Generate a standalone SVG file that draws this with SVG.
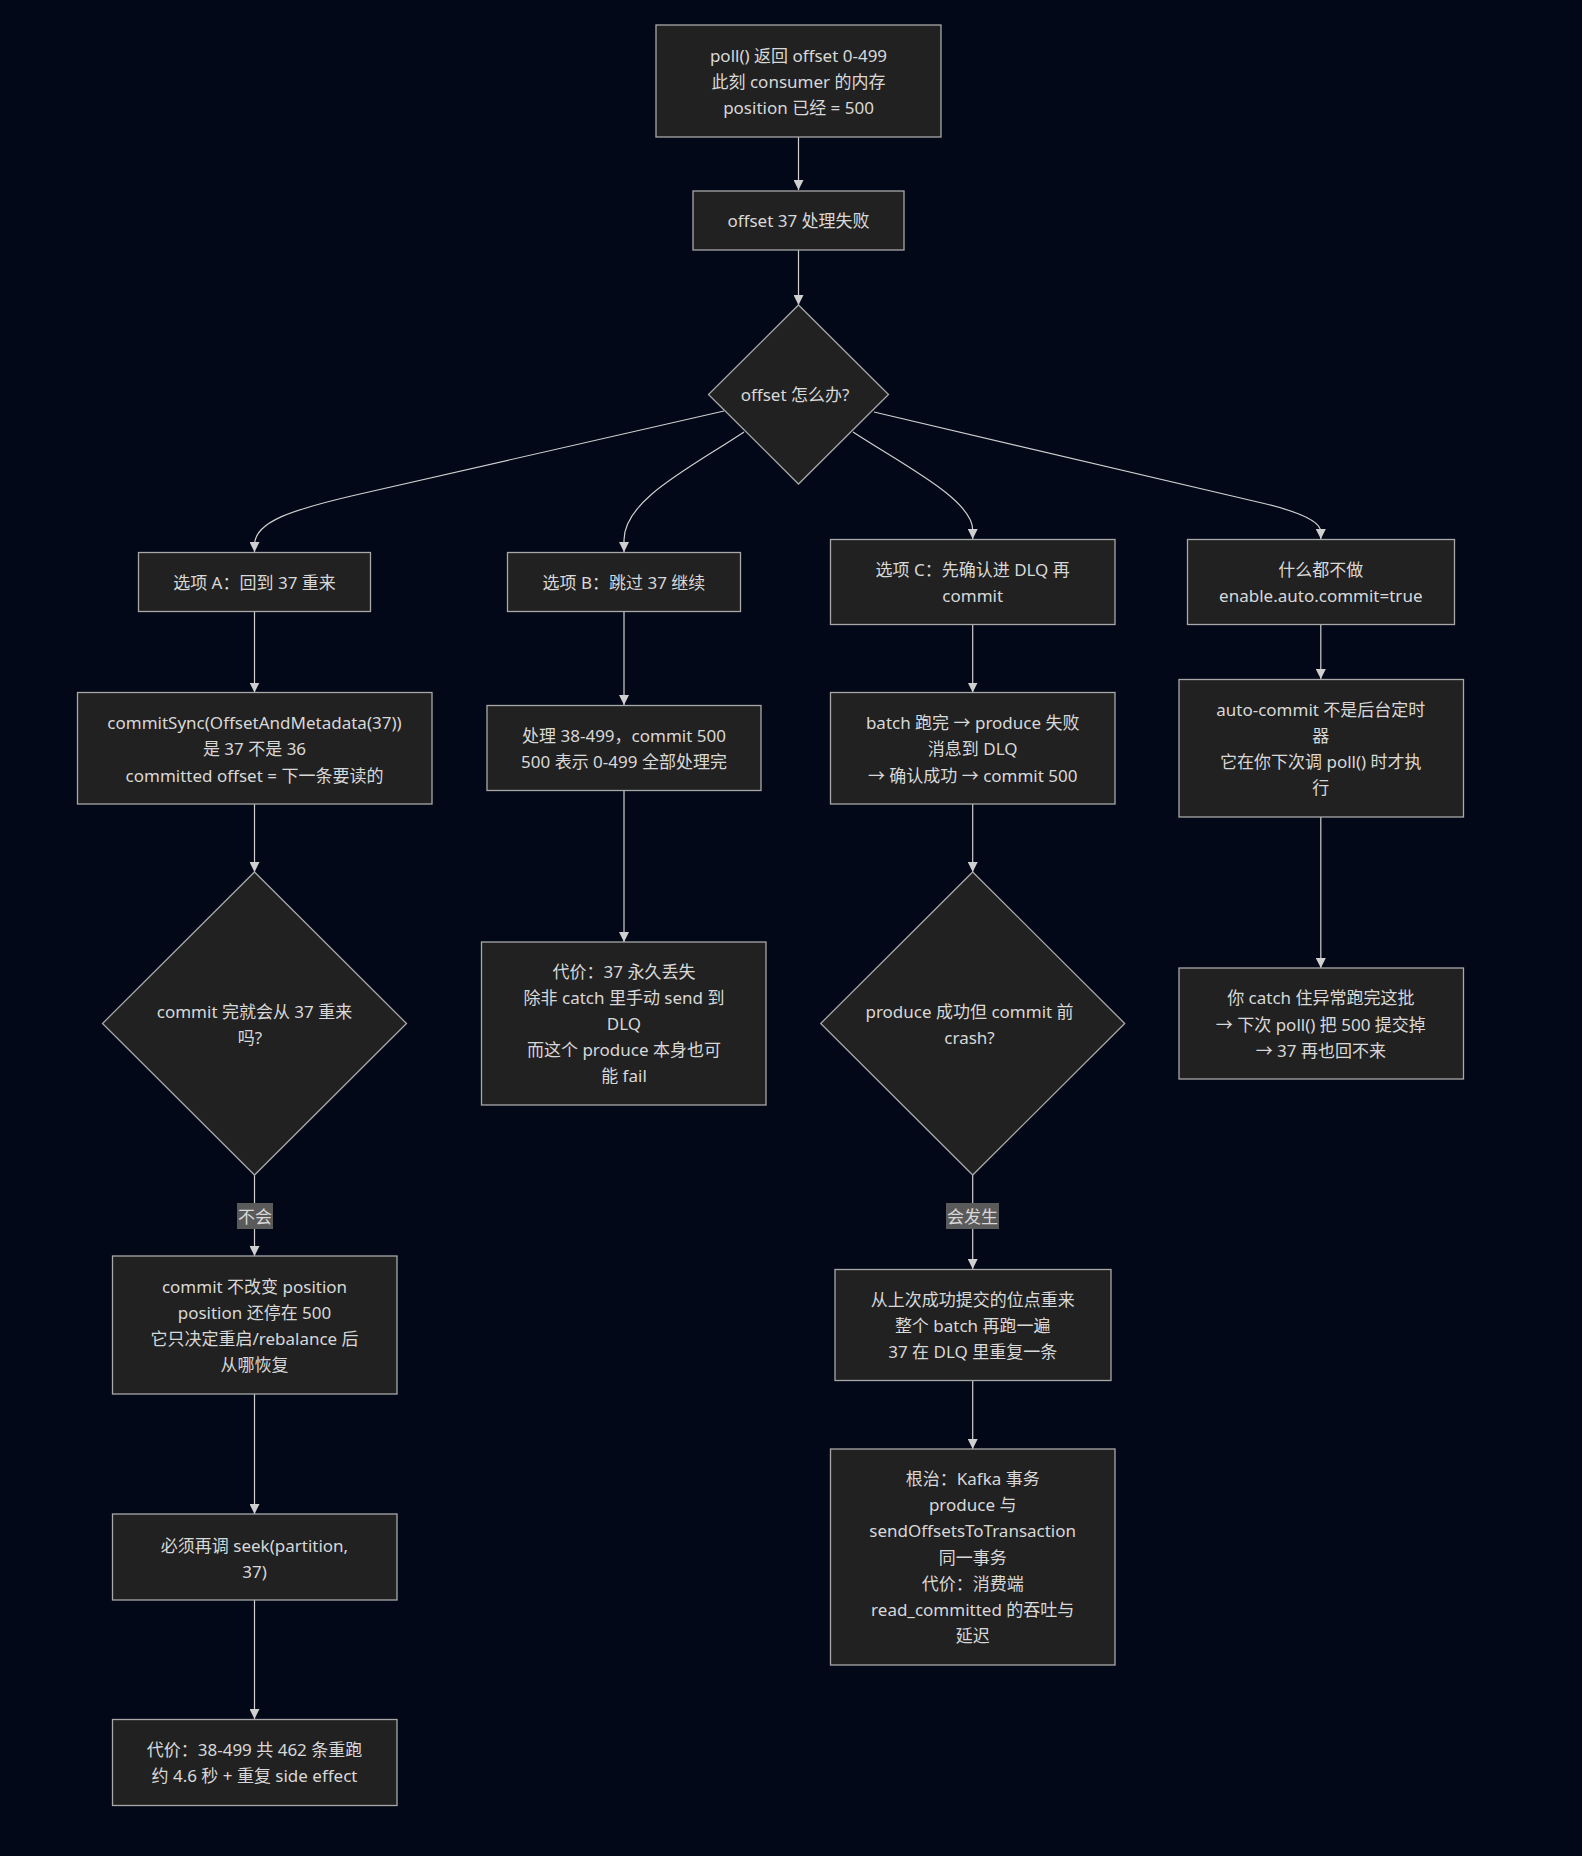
<svg xmlns="http://www.w3.org/2000/svg" width="1582" height="1856" viewBox="0 0 1582 1856">
<style>
.bg{fill:#020817}
.n{fill:#212121;stroke:#a8a8a8;stroke-width:1.3}
.t{font-family:"Noto Sans","Noto Sans CJK SC",sans-serif;font-size:17px;fill:#d8d8d8;text-anchor:middle;dominant-baseline:central}
.e{fill:none;stroke:#cfcfcf;stroke-width:1.2}
.lb{fill:#5a5a5a}
</style>
<defs>
<marker id="ah" viewBox="0 0 10 10" refX="10" refY="5" markerWidth="10" markerHeight="10" markerUnits="userSpaceOnUse" orient="auto">
<path d="M0,0 L10,5 L0,10 z" fill="#cfcfcf"/>
</marker>
</defs>
<rect class="bg" x="0" y="0" width="1582" height="1856"/>

<g id="connectors">
<path class="e" marker-end="url(#ah)" d="M798.5,137 L798.5,190"/>
<path class="e" marker-end="url(#ah)" d="M798.5,250 L798.5,305"/>
<path class="e" marker-end="url(#ah)" d="M724,411 L360,494 C290,510 254.5,522 254.5,545 L254.5,552"/>
<path class="e" marker-end="url(#ah)" d="M744,432 C690,468 624,500 624,540 L624,552"/>
<path class="e" marker-end="url(#ah)" d="M853,432 C905,466 972.7,500 972.7,530 L972.7,539"/>
<path class="e" marker-end="url(#ah)" d="M874,412 L1262,503 C1300,512 1320.8,522 1320.8,532 L1320.8,539"/>
<path class="e" marker-end="url(#ah)" d="M254.5,611 L254.5,692.5"/>
<path class="e" marker-end="url(#ah)" d="M254.5,804 L254.5,872"/>
<path class="e" marker-end="url(#ah)" d="M254.5,1175 L254.5,1256"/>
<path class="e" marker-end="url(#ah)" d="M254.5,1394 L254.5,1514"/>
<path class="e" marker-end="url(#ah)" d="M254.5,1600 L254.5,1719"/>
<path class="e" marker-end="url(#ah)" d="M624,611 L624,705"/>
<path class="e" marker-end="url(#ah)" d="M624,791 L624,942"/>
<path class="e" marker-end="url(#ah)" d="M972.7,625 L972.7,692.5"/>
<path class="e" marker-end="url(#ah)" d="M972.7,804 L972.7,872"/>
<path class="e" marker-end="url(#ah)" d="M972.7,1175 L972.7,1269"/>
<path class="e" marker-end="url(#ah)" d="M972.7,1381 L972.7,1449"/>
<path class="e" marker-end="url(#ah)" d="M1320.8,625 L1320.8,679"/>
<path class="e" marker-end="url(#ah)" d="M1320.8,817 L1320.8,968"/>
<g id="edge-labels">
<rect class="lb" x="237" y="1203" width="36" height="26"/>
<text class="t" x="255" y="1216">不会</text>
<rect class="lb" x="946" y="1203" width="53" height="26"/>
<text class="t" x="972.5" y="1216">会发生</text>
</g>
</g>

<g id="n-poll">
<rect class="n" x="656" y="25" width="285" height="112"/>
<text class="t" x="798.5" y="55">poll() 返回 offset 0-499</text>
<text class="t" x="798.5" y="81">此刻 consumer 的内存</text>
<text class="t" x="798.5" y="107">position 已经 = 500</text>
</g>
<g id="n-fail">
<rect class="n" x="693" y="191" width="211" height="59"/>
<text class="t" x="798.5" y="220.5">offset 37 处理失败</text>
</g>
<g id="n-decide">
<polygon class="n" points="798.5,305 888.5,394.5 798.5,484 708.5,394.5"/>
<text class="t" x="795" y="394.5">offset 怎么办?</text>
</g>
<g id="n-optA">
<rect class="n" x="138.5" y="552.5" width="232" height="59"/>
<text class="t" x="254.5" y="582">选项 A：回到 37 重来</text>
</g>
<g id="n-optB">
<rect class="n" x="507.5" y="552.5" width="233" height="59"/>
<text class="t" x="624" y="582">选项 B：跳过 37 继续</text>
</g>
<g id="n-optC">
<rect class="n" x="830.5" y="539.5" width="284.5" height="85"/>
<text class="t" x="972.7" y="569">选项 C：先确认进 DLQ 再</text>
<text class="t" x="972.7" y="595">commit</text>
</g>
<g id="n-optD">
<rect class="n" x="1187.5" y="539.5" width="267" height="85"/>
<text class="t" x="1320.8" y="569">什么都不做</text>
<text class="t" x="1320.8" y="595">enable.auto.commit=true</text>
</g>
<g id="n-commitSync">
<rect class="n" x="77.5" y="692.5" width="354.5" height="111.5"/>
<text class="t" x="254.5" y="722.5">commitSync(OffsetAndMetadata(37))</text>
<text class="t" x="254.5" y="748.5">是 37 不是 36</text>
<text class="t" x="254.5" y="775">committed offset = 下一条要读的</text>
</g>
<g id="n-process">
<rect class="n" x="487" y="705.5" width="274" height="85"/>
<text class="t" x="624" y="735">处理 38-499，commit 500</text>
<text class="t" x="624" y="761">500 表示 0-499 全部处理完</text>
</g>
<g id="n-batch">
<rect class="n" x="830.5" y="692.5" width="284.5" height="111.5"/>
<text class="t" x="972.7" y="722.5">batch 跑完 → produce 失败</text>
<text class="t" x="972.7" y="748.5">消息到 DLQ</text>
<text class="t" x="972.7" y="775">→ 确认成功 → commit 500</text>
</g>
<g id="n-autocommit">
<rect class="n" x="1179" y="679.5" width="284.5" height="137.5"/>
<text class="t" x="1320.8" y="709.5">auto-commit 不是后台定时</text>
<text class="t" x="1320.8" y="735.5">器</text>
<text class="t" x="1320.8" y="761.5">它在你下次调 poll() 时才执</text>
<text class="t" x="1320.8" y="787.5">行</text>
</g>
<g id="n-decideA">
<polygon class="n" points="254.5,872 406.5,1023.5 254.5,1175 102.5,1023.5"/>
<text class="t" x="254.5" y="1011">commit 完就会从 37 重来</text>
<text class="t" x="250" y="1037">吗?</text>
</g>
<g id="n-costB">
<rect class="n" x="481.5" y="942" width="284.5" height="163"/>
<text class="t" x="624" y="971">代价：37 永久丢失</text>
<text class="t" x="624" y="997">除非 catch 里手动 send 到</text>
<text class="t" x="624" y="1023">DLQ</text>
<text class="t" x="624" y="1049.5">而这个 produce 本身也可</text>
<text class="t" x="624" y="1075.5">能 fail</text>
</g>
<g id="n-decideC">
<polygon class="n" points="972.7,872 1124.7,1023.5 972.7,1175 820.7,1023.5"/>
<text class="t" x="969.5" y="1011">produce 成功但 commit 前</text>
<text class="t" x="969.5" y="1037">crash?</text>
</g>
<g id="n-lostD">
<rect class="n" x="1179" y="968" width="284.5" height="111"/>
<text class="t" x="1320.8" y="997.5">你 catch 住异常跑完这批</text>
<text class="t" x="1320.8" y="1024">→ 下次 poll() 把 500 提交掉</text>
<text class="t" x="1320.8" y="1050">→ 37 再也回不来</text>
</g>
<g id="n-position">
<rect class="n" x="112.5" y="1256" width="284.5" height="138"/>
<text class="t" x="254.5" y="1286.5">commit 不改变 position</text>
<text class="t" x="254.5" y="1312.5">position 还停在 500</text>
<text class="t" x="254.5" y="1338.5">它只决定重启/rebalance 后</text>
<text class="t" x="254.5" y="1364.5">从哪恢复</text>
</g>
<g id="n-replay">
<rect class="n" x="835" y="1269.5" width="276" height="111"/>
<text class="t" x="972.7" y="1299">从上次成功提交的位点重来</text>
<text class="t" x="972.7" y="1325">整个 batch 再跑一遍</text>
<text class="t" x="972.7" y="1351">37 在 DLQ 里重复一条</text>
</g>
<g id="n-seek">
<rect class="n" x="112.5" y="1514" width="284.5" height="86"/>
<text class="t" x="254.5" y="1545">必须再调 seek(partition,</text>
<text class="t" x="254.5" y="1571">37)</text>
</g>
<g id="n-txn">
<rect class="n" x="830.5" y="1449" width="284.5" height="216"/>
<text class="t" x="972.7" y="1478.5">根治：Kafka 事务</text>
<text class="t" x="972.7" y="1504.5">produce 与</text>
<text class="t" x="972.7" y="1530.5">sendOffsetsToTransaction</text>
<text class="t" x="972.7" y="1557">同一事务</text>
<text class="t" x="972.7" y="1583">代价：消费端</text>
<text class="t" x="972.7" y="1609">read_committed 的吞吐与</text>
<text class="t" x="972.7" y="1635.5">延迟</text>
</g>
<g id="n-costA">
<rect class="n" x="112.5" y="1719.5" width="284.5" height="86"/>
<text class="t" x="254.5" y="1749.5">代价：38-499 共 462 条重跑</text>
<text class="t" x="254.5" y="1775">约 4.6 秒 + 重复 side effect</text>
</g>
</svg>
